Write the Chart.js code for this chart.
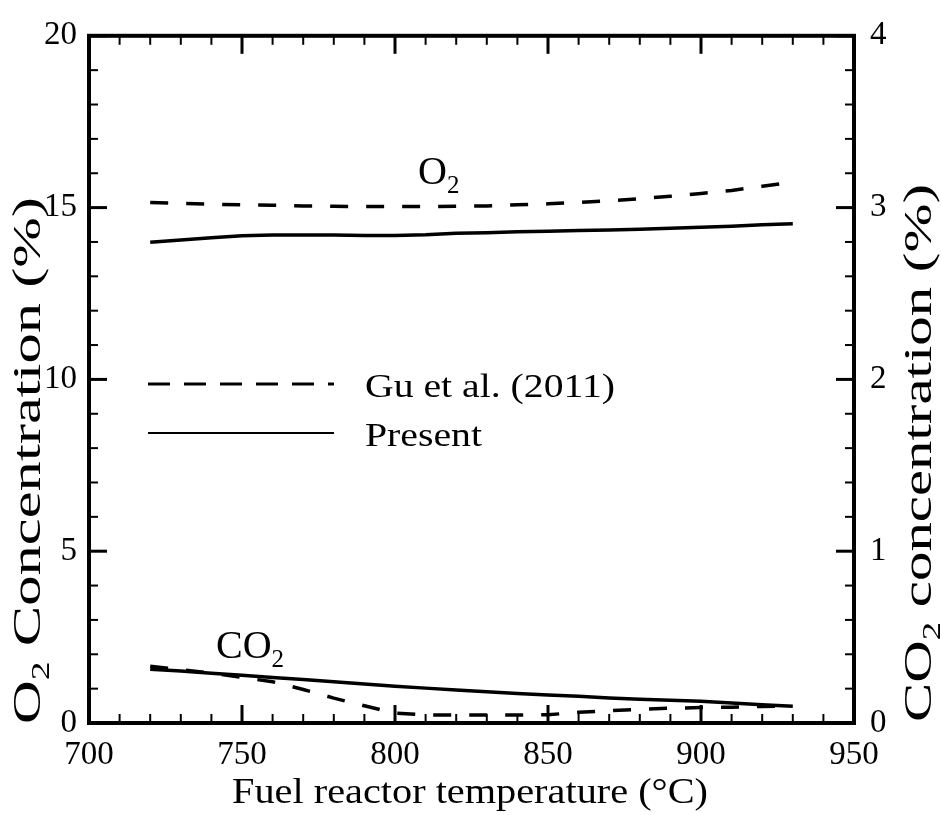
<!DOCTYPE html>
<html>
<head>
<meta charset="utf-8">
<script src="https://cdn.jsdelivr.net/npm/chart.js@4.4.0/dist/chart.umd.min.js"></script>
<style>
  html, body { margin: 0; padding: 0; background: #fff; }
  #wrap { width: 941px; height: 815px; }
</style>
</head>
<body>
<div id="wrap"><canvas id="chart" width="941" height="815"></canvas></div>
<script>
// fuel reactor temperature (°C)
const temps = [720, 730, 740, 750, 760, 770, 780, 790, 800, 810, 820,
    830, 840, 850, 860, 870, 880, 890, 900, 910, 920, 930];

// O2 concentration (%) - left axis
const o2Gu = [15.15, 15.12, 15.10, 15.08, 15.07, 15.05, 15.04, 15.03, 15.03, 15.03, 15.04,
    15.05, 15.08, 15.11, 15.15, 15.20, 15.26, 15.33, 15.41, 15.50, 15.62, 15.74];
const o2Present = [13.99, 14.06, 14.12, 14.18, 14.20, 14.20, 14.20, 14.19, 14.19, 14.21, 14.25,
    14.27, 14.30, 14.31, 14.33, 14.35, 14.37, 14.40, 14.43, 14.46, 14.50, 14.53];

// CO2 concentration (%) - right axis
const co2Gu = [0.330, 0.310, 0.290, 0.265, 0.240, 0.195, 0.145, 0.100, 0.058, 0.047, 0.046,
    0.046, 0.046, 0.048, 0.062, 0.072, 0.080, 0.086, 0.090, 0.092, 0.096, 0.100];
const co2Present = [0.313, 0.302, 0.290, 0.278, 0.265, 0.253, 0.240, 0.227, 0.214, 0.203, 0.192,
    0.182, 0.172, 0.163, 0.155, 0.146, 0.138, 0.132, 0.126, 0.116, 0.106, 0.097];

const xTicks = [700, 750, 800, 850, 900, 950];
const o2Ticks = [0, 5, 10, 15, 20];
const co2Ticks = [0, 1, 2, 3, 4];

const serif = "'Liberation Serif', 'DejaVu Serif', serif";
const pts = (ys) => temps.map((t, i) => ({ x: t, y: ys[i] }));

// text with subscript pieces [text, isSub], optionally stretched to a width
function drawParts(ctx, parts, x, y, size, width) {
    const fontOf = sub => (sub ? Math.round(size * 0.62) : size) + "px " + serif;
    let natural = 0;
    parts.forEach(([txt, sub]) => { ctx.font = fontOf(sub); natural += ctx.measureText(txt).width; });
    ctx.save();
    ctx.translate(x, y);
    if (width) ctx.scale(width / natural, 1);
    let cx = 0;
    parts.forEach(([txt, sub]) => {
        ctx.font = fontOf(sub);
        ctx.fillText(txt, cx, sub ? size * 0.22 : 0);
        cx += ctx.measureText(txt).width;
    });
    ctx.restore();
}

const framePlugin = {
    id: 'frame',
    afterDatasetsDraw(chart) {
        const { ctx, chartArea: a, scales } = chart;
        const sx = scales.x, sy = scales.y, sy1 = scales.y1;
        ctx.save();
        ctx.strokeStyle = '#000';
        ctx.fillStyle = '#000';
        ctx.lineCap = 'butt';
        ctx.textAlign = 'left';
        ctx.textBaseline = 'alphabetic';

        const seg = (x1, y1, x2, y2, w) => {
            ctx.lineWidth = w;
            ctx.beginPath(); ctx.moveTo(x1, y1); ctx.lineTo(x2, y2); ctx.stroke();
        };

        // inward ticks, major + minor
        for (let v = 700; v <= 950; v += 10) {
            const px = sx.getPixelForValue(v);
            const major = v % 50 === 0;
            const len = major ? 18 : 9;
            seg(px, a.bottom, px, a.bottom - len, major ? 3 : 2);
            seg(px, a.top, px, a.top + len, major ? 3 : 2);
        }
        for (let v = 0; v <= 20; v += 1) {
            const py = sy.getPixelForValue(v);
            const major = v % 5 === 0;
            seg(a.left, py, a.left + (major ? 18 : 9), py, major ? 3 : 2);
        }
        for (let k = 0; k <= 20; k += 1) {
            const py = sy1.getPixelForValue(k * 0.2);
            const major = k % 5 === 0;
            seg(a.right, py, a.right - (major ? 18 : 9), py, major ? 3 : 2);
        }

        // box
        ctx.lineWidth = 4;
        ctx.strokeRect(a.left, a.top, a.right - a.left, a.bottom - a.top);

        // curve labels
        drawParts(ctx, [['O', 0], ['2', 1]], 418, 184, 40);
        drawParts(ctx, [['CO', 0], ['2', 1]], 216, 658, 40);

        // legend
        const ds = chart.data.datasets;
        ctx.setLineDash([22, 14]);
        seg(148, 384, 334, 384, 3);
        ctx.setLineDash([]);
        seg(148, 433, 334, 433, 2);
        drawParts(ctx, [[ds[0].label, 0]], 365, 397, 33, 250);
        drawParts(ctx, [[ds[1].label, 0]], 365, 446, 33, 117);

        // axis titles
        drawParts(ctx, [["Fuel reactor temperature (\u00B0C)", 0]], 232, 803, 36, 476);

        ctx.save();
        ctx.translate(40, 724);
        ctx.rotate(-Math.PI / 2);
        drawParts(ctx, [['O', 0], ['2', 1], [' Concentration (%)', 0]], 0, 0, 40, 527);
        ctx.restore();

        ctx.save();
        ctx.translate(931, 722);
        ctx.rotate(-Math.PI / 2);
        drawParts(ctx, [['CO', 0], ['2', 1], [' concentration (%)', 0]], 0, 0, 40, 538);
        ctx.restore();

        ctx.restore();
    }
};

const tickFont = { family: serif, size: 33 };
const hidden = { drawOnChartArea: false, drawTicks: false, display: false };

new Chart(document.getElementById('chart').getContext('2d'), {
    type: 'line',
    data: {
        datasets: [
            { label: 'Gu et al. (2011)', data: pts(o2Gu), yAxisID: 'y', borderDash: [18, 18] },
            { label: 'Present', data: pts(o2Present), yAxisID: 'y' },
            { label: 'Gu et al. (2011) CO2', data: pts(co2Gu), yAxisID: 'y1', borderDash: [18, 18] },
            { label: 'Present CO2', data: pts(co2Present), yAxisID: 'y1' }
        ].map(d => Object.assign(d, { borderColor: '#000', borderWidth: 3.5, pointRadius: 0, tension: 0, fill: false }))
    },
    options: {
        responsive: false,
        animation: false,
        devicePixelRatio: 1,
        layout: { padding: { top: 24, left: 0, right: 0, bottom: 0 } },
        plugins: { legend: { display: false }, tooltip: { enabled: false } },
        scales: {
            x: {
                type: 'linear', min: 700, max: 950,
                afterBuildTicks: s => { s.ticks = xTicks.map(v => ({ value: v })); },
                ticks: { font: tickFont, color: '#000', padding: 13, maxRotation: 0 },
                grid: hidden, border: { display: false },
                afterFit: s => { s.height = 92; }
            },
            y: {
                position: 'left', min: 0, max: 20,
                afterBuildTicks: s => { s.ticks = o2Ticks.map(v => ({ value: v })); },
                ticks: { font: tickFont, color: '#000', padding: 12 },
                grid: hidden, border: { display: false },
                afterFit: s => { s.width = 89; }
            },
            y1: {
                position: 'right', min: 0, max: 4,
                afterBuildTicks: s => { s.ticks = co2Ticks.map(v => ({ value: v })); },
                ticks: { font: tickFont, color: '#000', padding: 16 },
                grid: hidden, border: { display: false },
                afterFit: s => { s.width = 87; }
            }
        }
    },
    plugins: [framePlugin]
});
</script>
</body>
</html>
